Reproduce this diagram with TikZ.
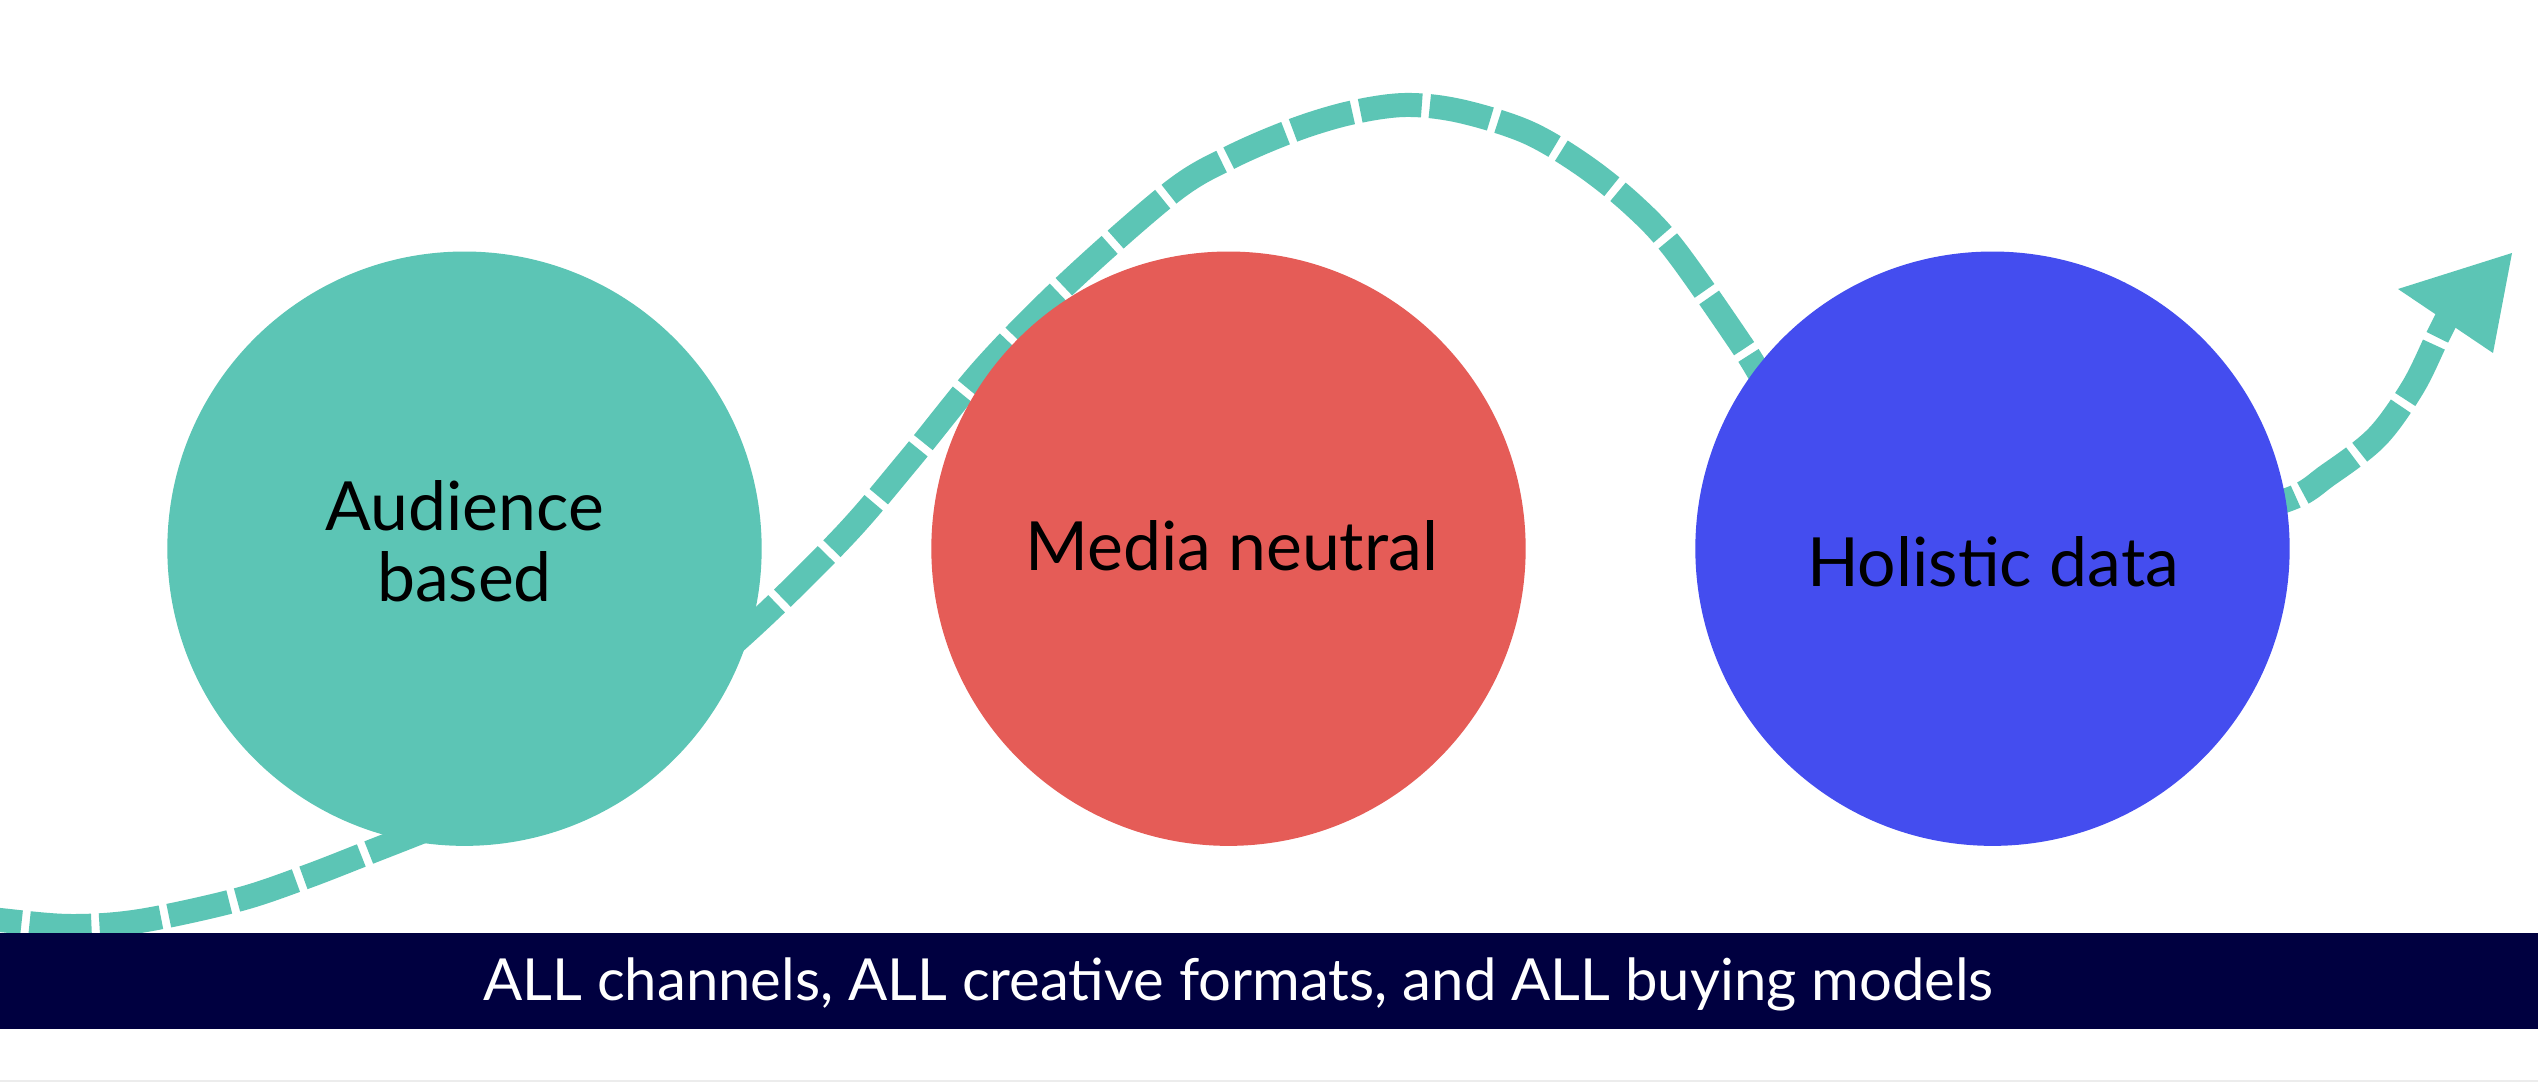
\documentclass[tikz,border=0pt]{standalone}
\usepackage{fontspec}
\setmainfont{Lato}
\definecolor{tealc}{RGB}{92,197,181}
\definecolor{redc}{RGB}{229,92,87}
\definecolor{bluec}{RGB}{68,77,239}
\definecolor{navyc}{RGB}{0,0,64}
\definecolor{grayc}{RGB}{236,236,236}
\begin{document}
\begin{tikzpicture}[x=0.01cm, y=-0.01cm,
  blob/.style={circle, inner sep=0pt, minimum size=5.94cm},
  lbl/.style={anchor=base, inner sep=0pt, text=black, font=\fontsize{19.3pt}{22pt}\selectfont},
  flow/.style={draw=tealc, line width=0.24cm, dash pattern=on 0.62cm off 0.08cm},
  bartext/.style={anchor=base, inner sep=0pt, text=white, font=\fontsize{16.5pt}{19pt}\selectfont}]
\useasboundingbox (0,0) rectangle (2538,1082);
\clip (0,0) rectangle (2538,1082);
\fill[white] (0,0) rectangle (2538,1082);
% flow curve
\coordinate (start) at (-40,915);
\coordinate (shaftend) at (2447,318);
\draw[flow] plot[smooth, tension=0.55] coordinates {
  (start) (0,920) (70,926) (140,921) (237,900) (303,878) (365,854)
  (460,816) (560,770) (660,705) (753,626) (845,535) (910,459) (986,366)
  (1070,281) (1173,191) (1231,157) (1294,130) (1350,113) (1405,105)
  (1460,111) (1527,132) (1583,165) (1633,205)
  (1675,250) (1743,347) (1790,420) (1860,480) (1950,525) (2060,540)
  (2180,528) (2287,500) (2328,475) (2377,437) (2413,387) (2437,338) (shaftend)};
% circles
\node[blob, fill=tealc] (aud) at (464.5,548.7) {};
\node[blob, fill=redc] (med) at (1228.5,548.7) {};
\node[blob, fill=bluec] (hol) at (1992.5,548.7) {};
% arrow head
\coordinate (tip) at (2512,253);
\fill[tealc] (2398,289) -- (tip) -- (2493,353) -- cycle;
% labels
\node[lbl] (audA) at (464.5,530) {Audience};
\node[lbl] (audB) at (464.5,601.7) {based};
\node[lbl] (medL) at (1231.7,570.7) {Media neutral};
\node[lbl] (holL) at (1993,586) {Holistic data};
% bottom bar
\fill[navyc] (0,933) rectangle (2538,1029);
\fill[grayc] (0,1080) rectangle (2538,1082);
\node[bartext] (bar) at (1238.5,1000) {ALL channels, ALL creative formats, and ALL buying models};
\end{tikzpicture}
\end{document}
